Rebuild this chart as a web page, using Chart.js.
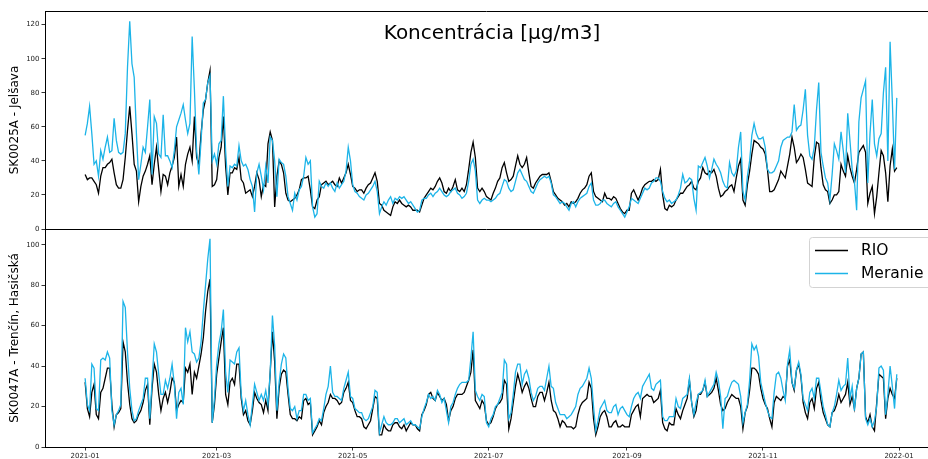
<!DOCTYPE html>
<html>
<head>
<meta charset="utf-8">
<script src="https://cdn.jsdelivr.net/npm/chart.js@4.4.0/dist/chart.umd.min.js"></script>
<style>
html,body{margin:0;padding:0;background:#fff;overflow:hidden;width:928px;height:459px;}
canvas{display:block;}
</style>
</head>
<body>
<canvas id="c" width="928" height="459"></canvas>
<script>
// ---- data (daily values, day index 0 = 2021-01-01) ----
const startDate = '2021-01-01';
const seriesNames = ['RIO', 'Meranie'];
const stationNames = ['SK0025A - Jelšava', 'SK0047A - Trenčín, Hasičská'];
const chartTitle = 'Koncentrácia [µg/m3]';
const xTickDays = [0, 59, 120, 181, 243, 304, 365];
const xTickLabels = ['2021-01', '2021-03', '2021-05', '2021-07', '2021-09', '2021-11', '2022-01'];
const yTicksTop = [0, 20, 40, 60, 80, 100, 120];
const yTicksBottom = [0, 20, 40, 60, 80, 100];

const jelsavaRIO = [
32,29,30,30,28,26,21,31,36,36, 38,39,41,33,26,24,24,29,42,58, 72,56,38,34,16,25,31,34,38,43, 26,38,48,35,22,32,31,26,33,37,
42,54,25,32,25,38,44,48,40,66, 42,38,56,70,76,86,93,25,26,29, 42,48,66,37,20,33,33,36,35,42, 29,27,21,22,23,19,25,33,29,19,
26,25,50,57,52,13,31,40,38,33, 21,17,16,17,18,20,23,29,30,30, 31,23,13,12,17,19,26,27,28,26, 27,28,26,25,30,27,30,33,38,32,
25,24,22,23,23,21,24,26,27,30, 33,28,15,14,11,10,9,8,13,16, 15,17,15,14,13,14,13,11,11,11, 10,14,18,20,22,24,23,25,28,30,
27,22,21,24,22,25,29,23,22,24, 22,26,35,45,51,42,24,22,24,22, 19,18,17,21,24,28,30,36,39,33, 28,29,31,37,43,38,36,38,42,33,
25,24,27,29,31,32,32,32,33,28, 22,20,18,17,16,14,15,13,16,15, 16,18,21,23,24,26,31,33,22,19, 18,17,16,21,18,18,17,19,18,15,
12,10,9,11,11,21,23,20,17,20, 24,26,27,28,28,29,28,29,35,20, 12,11,14,13,14,17,19,21,21,23, 25,26,28,24,23,28,30,36,33,32,
34,33,35,31,24,19,20,22,23,25, 26,22,30,37,41,17,14,26,34,44, 52,51,50,48,47,44,35,22,22,23, 26,29,34,32,30,37,44,54,48,39,
41,44,42,35,27,26,25,42,51,50, 36,26,23,22,15,17,20,20,22,38, 34,31,43,36,31,27,35,45,47,49, 45,15,21,25,9,19,33,46,43,33,
16,37,47,34,36];

const jelsavaMeranie = [
55,62,72,56,38,40,31,46,41,48, 54,45,46,65,52,45,44,45,56,95, 122,97,89,56,29,38,48,45,60,76, 32,66,62,44,42,67,43,43,40,36,
46,60,64,68,73,64,56,62,113,82, 46,32,52,74,76,86,90,40,44,38, 50,52,78,46,25,37,36,38,37,49, 40,37,38,35,29,25,10,33,38,31,
23,37,27,54,52,40,19,41,39,38, 31,19,15,11,21,17,23,25,31,42, 38,40,13,7,9,28,25,24,27,25, 27,24,22,27,24,26,28,34,48,40,
26,22,21,19,18,17,20,21,23,25, 28,22,9,13,16,14,17,19,15,18, 17,19,18,19,17,15,16,14,12,10, 11,17,18,18,20,21,19,21,22,24,
22,20,19,20,22,23,24,21,20,18, 19,21,28,38,41,34,17,15,17,18, 17,17,16,17,18,20,21,25,29,28, 24,22,23,28,33,35,32,29,28,25,
22,21,24,27,29,30,31,30,31,27, 20,19,17,15,16,15,13,11,15,16, 13,16,18,19,20,21,25,27,17,14, 14,15,17,17,15,14,13,15,16,13,
11,9,7,10,13,18,17,16,15,18, 21,24,23,24,27,28,30,30,28,22, 18,16,17,15,16,17,20,24,32,27, 28,30,29,18,11,37,36,39,42,37,
30,35,41,38,36,33,28,25,24,39, 33,31,34,48,57,22,17,31,40,55, 62,56,53,53,54,48,35,33,33,34, 37,40,48,52,53,54,54,57,73,58,
60,61,70,82,55,43,41,48,70,86, 45,37,30,27,17,32,50,46,41,57, 46,33,68,52,35,28,11,63,77,82, 87,27,56,76,50,43,53,56,80,95,
40,110,75,35,77];

const trencinRIO = [
32,19,15,27,31,16,14,27,29,34, 39,39,21,10,16,17,19,52,47,32, 21,14,12,13,16,18,22,28,31,11, 29,41,37,26,18,24,27,22,27,34,
32,18,21,23,22,39,37,41,26,37, 34,40,46,54,67,77,83,12,21,36, 44,52,59,26,21,32,34,31,41,41, 24,16,18,13,11,18,27,24,22,21,
17,23,18,37,57,42,14,29,36,38, 37,26,16,14,14,13,15,14,23,24, 21,22,6,8,10,13,11,17,20,22, 26,24,24,23,21,22,27,29,32,23,
22,18,15,15,14,10,9,11,13,19, 25,24,6,6,11,9,8,8,11,12, 12,10,9,11,8,10,12,11,11,9, 8,16,18,21,26,27,24,23,27,25,
23,24,21,13,18,20,24,26,26,26, 27,30,33,37,48,23,21,19,23,21, 13,11,12,15,19,21,22,24,33,31, 9,14,22,30,36,32,27,30,32,29,
24,20,20,25,27,27,23,27,32,23, 18,17,14,10,13,12,10,10,10,9, 10,16,20,22,23,24,32,29,14,6, 10,15,17,18,15,10,10,12,13,10,
10,11,10,10,10,16,18,20,21,15, 24,25,26,25,25,22,23,24,28,12, 9,8,12,11,11,19,16,14,18,21, 24,33,22,15,18,26,26,28,32,25,
26,27,29,34,28,21,18,19,22,24, 26,25,24,24,20,9,17,20,28,39, 39,38,36,29,24,21,19,14,10,22, 25,24,23,25,24,40,43,32,28,38,
41,35,22,17,14,22,24,19,29,32, 23,17,14,11,10,17,18,21,26,22, 24,26,32,21,25,19,29,34,46,47, 15,12,16,10,8,22,36,35,34,14,
24,29,26,24,34];

const trencinMeranie = [
34,21,18,41,39,19,18,43,44,43, 47,44,18,11,16,18,21,72,69,47, 29,18,13,14,18,21,24,34,34,14, 32,51,47,36,26,26,33,29,34,41,
31,14,27,29,21,59,52,57,47,46, 42,44,52,67,80,93,103,12,24,41, 51,57,68,37,27,43,42,41,47,49, 26,18,23,16,11,21,31,27,23,26,
23,28,21,37,65,50,18,32,41,46, 44,29,19,18,20,14,18,18,26,26, 23,24,7,9,11,14,13,19,26,30, 40,27,25,25,24,23,29,33,37,25,
24,19,18,17,17,14,13,14,17,20, 28,27,7,11,15,12,11,11,12,14, 14,12,13,14,11,12,13,11,11,10, 9,15,19,22,26,24,25,23,28,26,
22,24,18,12,20,22,26,29,31,32, 32,32,33,44,57,28,25,23,26,25, 12,10,14,16,20,21,24,27,43,41, 14,17,26,37,41,41,31,36,38,34,
27,23,25,29,30,30,28,34,40,30, 29,22,19,16,16,16,14,15,16,18, 20,26,29,30,32,34,39,34,20,8, 13,19,21,23,18,17,17,20,21,16,
19,20,18,16,15,20,24,26,27,24, 30,32,34,36,29,28,31,32,33,15, 13,13,15,15,15,24,20,19,24,25, 26,34,22,16,22,26,27,28,33,25,
27,29,31,37,33,25,9,24,25,29, 32,33,32,31,25,12,17,21,33,51, 48,50,45,32,27,22,18,15,14,27, 36,37,34,28,23,41,48,32,29,38,
42,36,24,21,18,27,29,24,34,34, 27,20,16,11,10,17,20,26,33,28, 30,31,44,24,30,18,29,34,46,47, 14,11,14,10,13,20,39,40,38,16,
26,40,30,19,36];

// ---- chart ----
const COLORS = ['#000000', '#1cb4e8'];
const FONT = 'DejaVu Sans';
const toPoints = arr => arr.map((v, i) => ({ x: i, y: v }));

const commonTickFont = { family: FONT, size: 7 };

function yScale(ticksArr, max, title) {
  return {
    type: 'linear', position: 'left', stack: 'panels', stackWeight: 1,
    min: 0, max: max,
    afterBuildTicks: s => { s.ticks = ticksArr.map(v => ({ value: v })); },
    afterFit: s => { s.width = 45; },
    grid: { display: true, drawOnChartArea: false, drawTicks: true, tickLength: 3.5, color: '#000', tickWidth: 0.8 },
    border: { display: true, color: '#000', width: 1 },
    ticks: { font: commonTickFont, color: '#222', padding: 2 },
    title: { display: true, text: title, font: { family: FONT, size: 12 }, color: '#000', padding: { top: 8, bottom: 0 } }
  };
}

const overlayPlugin = {
  id: 'overlay',
  afterDraw(chart) {
    const { ctx, chartArea } = chart;
    const yTop = chart.scales.yTop;
    const yBot = chart.scales.yBottom;
    ctx.save();
    // frame lines (top spine and panel separator)
    ctx.strokeStyle = '#000';
    ctx.lineWidth = 1;
    ctx.beginPath();
    const t = Math.round(chartArea.top) + 0.5;
    const m = Math.round(yTop.bottom) + 0.5;
    ctx.moveTo(chartArea.left, t); ctx.lineTo(chartArea.right, t);
    ctx.moveTo(chartArea.left, m); ctx.lineTo(chartArea.right, m);
    ctx.stroke();
    // title inside top panel
    ctx.fillStyle = '#000';
    ctx.font = '20px "' + FONT + '"';
    ctx.textAlign = 'center';
    ctx.textBaseline = 'alphabetic';
    ctx.fillText(chartTitle, 492, 39);
    // legend inside bottom panel (upper right)
    const bx = 809, by = Math.round(yBot.top) + 8.5, bw = 122, bh = 50;
    ctx.beginPath();
    ctx.roundRect(bx + 0.5, by, bw, bh, 3);
    ctx.fillStyle = 'rgba(255,255,255,0.85)';
    ctx.fill();
    ctx.strokeStyle = '#d3d3d3';
    ctx.stroke();
    ctx.font = '15.5px "' + FONT + '"';
    ctx.textAlign = 'left';
    ctx.textBaseline = 'middle';
    const rows = [by + 13, by + 36];
    seriesNames.forEach((name, i) => {
      ctx.strokeStyle = COLORS[i];
      ctx.lineWidth = 1.5;
      ctx.beginPath();
      ctx.moveTo(815, rows[i]); ctx.lineTo(848, rows[i]);
      ctx.stroke();
      ctx.fillStyle = '#000';
      ctx.fillText(name, 861, rows[i] + 0.5);
    });
    ctx.restore();
  }
};

const ds = (label, data, color, axis, order) => ({
  label, data: toPoints(data), borderColor: color, backgroundColor: color,
  borderWidth: 1.3, pointRadius: 0, tension: 0, yAxisID: axis, order, fill: false
});

new Chart(document.getElementById('c'), {
  type: 'line',
  data: {
    datasets: [
      ds(seriesNames[1], jelsavaMeranie, COLORS[1], 'yTop', 0),
      ds(seriesNames[0], jelsavaRIO, COLORS[0], 'yTop', 1),
      ds(seriesNames[1], trencinMeranie, COLORS[1], 'yBottom', 0),
      ds(seriesNames[0], trencinRIO, COLORS[0], 'yBottom', 1)
    ]
  },
  options: {
    responsive: false,
    animation: false,
    devicePixelRatio: 1,
    layout: { padding: { top: 11, left: 0, right: 0, bottom: 0 } },
    plugins: { legend: { display: false }, tooltip: { enabled: false }, title: { display: false } },
    scales: {
      x: {
        type: 'linear', position: 'bottom', min: -18, max: 378,
        afterBuildTicks: s => { s.ticks = xTickDays.map(v => ({ value: v })); },
        afterFit: s => { s.height = 12; },
        grid: { display: true, drawOnChartArea: false, drawTicks: true, tickLength: 3.5, color: '#000', tickWidth: 0.8 },
        border: { display: true, color: '#000', width: 1 },
        ticks: {
          font: commonTickFont, color: '#222', padding: 1, maxRotation: 0, autoSkip: false,
          callback: v => { const i = xTickDays.indexOf(v); return i >= 0 ? xTickLabels[i] : ''; }
        }
      },
      yBottom: yScale(yTicksBottom, 107.8, stationNames[1]),
      yTop: yScale(yTicksTop, 128, stationNames[0])
    }
  },
  plugins: [overlayPlugin]
});
</script>
</body>
</html>
